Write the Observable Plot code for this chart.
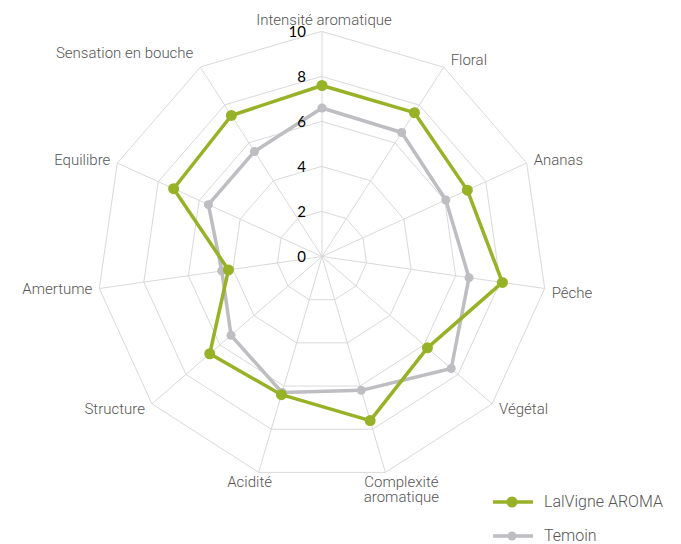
<!DOCTYPE html>
<html>
<head>
<meta charset="utf-8">
<script src="https://cdn.jsdelivr.net/npm/d3@7"></script>
<script src="https://cdn.jsdelivr.net/npm/@observablehq/plot@0.6"></script>
<style>
  html, body { margin: 0; padding: 0; background: #fff; }
  #wrap { position: relative; width: 681px; height: 544px; overflow: hidden; }
  .leg { position: absolute; left: 492px; height: 14px; line-height: 14px; display: flex; align-items: center; font-family: Roboto, "Liberation Sans", sans-serif; font-weight: 300; font-size: 16px; color: #555; }
  .leg svg { margin-right: 10px; }
</style>
</head>
<body>
<div id="wrap"></div>
<script>
const categories = ["Intensité aromatique", "Floral", "Ananas", "Pêche", "Végétal", "Complexité\naromatique", "Acidité", "Structure", "Amertume", "Equilibre", "Sensation en bouche"];
const lalvigne = [7.6, 7.6, 7.1, 8.1, 6.2, 7.6, 6.4, 6.6, 4.2, 7.25, 7.45];
const temoin = [6.6, 6.55, 6.05, 6.6, 7.6, 6.2, 6.3, 5.35, 4.5, 5.55, 5.55];
const ticks = [0, 2, 4, 6, 8, 10];
const seriesNames = ["LalVigne AROMA", "Temoin"];
const seriesColors = ["#97b226", "#bdbdc2"];

const n = categories.length;
const ang = i => 2 * Math.PI * i / n;
const px = (i, v) => v * Math.sin(ang(i));
const py = (i, v) => v * Math.cos(ang(i));
const maxV = d3.max(ticks);

const rings = [];
ticks.filter(t => t > 0).forEach(t => categories.forEach((c, i) => rings.push({r: t, i})));

const pts = s => (s === 0 ? lalvigne : temoin).map((v, i) => ({i, v, s}));

const labelMarks = categories.map((c, i) => {
  const s = Math.sin(ang(i)), co = Math.cos(ang(i));
  let o;
  if (i === 0) o = {textAnchor: "middle", lineAnchor: "bottom", dx: 2, dy: -7};
  else if (Math.abs(s) < 0.35 && co < 0) o = {textAnchor: "middle", lineAnchor: "top", dx: s > 0 ? 16 : -9, dy: 4};
  else o = {textAnchor: s > 0 ? "start" : "end", lineAnchor: "middle", dx: 7 * Math.sign(s), dy: -8 * co + (i === 10 ? -7 : 0) + (i === 3 ? 4 : 0)};
  return Plot.text([c], {
    x: () => px(i, maxV), y: () => py(i, maxV), text: d => d,
    fill: "#555", fontSize: 15, fontWeight: 300, fontFamily: "Roboto, 'Liberation Sans', sans-serif",
    lineHeight: 1.0, ...o
  });
});

const chart = Plot.plot({
  width: 681,
  height: 544,
  marginLeft: 96.5,
  marginRight: 134.5,
  marginTop: 31,
  marginBottom: 63,
  x: {domain: [-maxV, maxV], axis: null},
  y: {domain: [-maxV, maxV], axis: null},
  style: {background: "#fff"},
  marks: [
    Plot.line(rings, {x: d => px(d.i, d.r), y: d => py(d.i, d.r), z: "r", curve: "linear-closed", stroke: "#d9d9d9", strokeWidth: 1}),
    Plot.link(categories, {x1: 0, y1: 0, x2: (d, i) => px(i, maxV), y2: (d, i) => py(i, maxV), stroke: "#d9d9d9", strokeWidth: 1}),
    ...labelMarks,
    Plot.line(pts(1), {x: d => px(d.i, d.v), y: d => py(d.i, d.v), curve: "linear-closed", stroke: seriesColors[1], strokeWidth: 3.5}),
    Plot.dot(pts(1), {x: d => px(d.i, d.v), y: d => py(d.i, d.v), r: 4.5, fill: seriesColors[1]}),
    Plot.line(pts(0), {x: d => px(d.i, d.v), y: d => py(d.i, d.v), curve: "linear-closed", stroke: seriesColors[0], strokeWidth: 3.5}),
    Plot.dot(pts(0), {x: d => px(d.i, d.v), y: d => py(d.i, d.v), r: 5.5, fill: seriesColors[0]}),
    Plot.text(ticks, {x: 0, y: d => d, text: d => String(d), textAnchor: "end", dx: -16, dy: 1, fill: "#000", fontSize: 15, fontFamily: "Lato, 'Open Sans', sans-serif"})
  ]
});

const wrap = document.getElementById("wrap");
wrap.appendChild(chart);

seriesNames.forEach((name, k) => {
  const div = document.createElement("div");
  div.className = "leg";
  div.style.top = (k === 0 ? 495 : 529) + "px";
  const r = k === 0 ? 5.5 : 4.5;
  div.innerHTML = `<svg width="42" height="14"><line x1="1" y1="7" x2="41" y2="7" stroke="${seriesColors[k]}" stroke-width="3.5"/><circle cx="20" cy="7" r="${r}" fill="${seriesColors[k]}"/></svg><span>${name}</span>`;
  wrap.appendChild(div);
});
</script>
</body>
</html>
